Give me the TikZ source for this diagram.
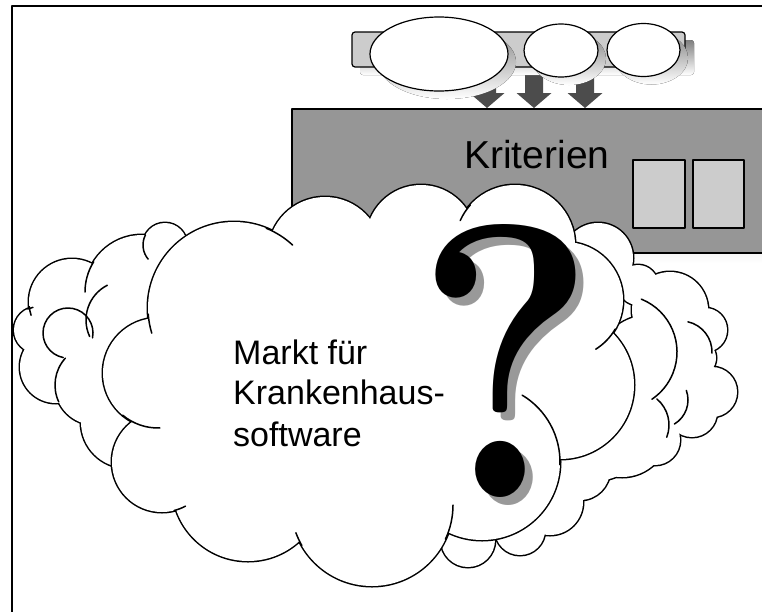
\documentclass[tikz,border=0pt]{standalone}
\usepackage{fontspec}
\newfontfamily\arial{Liberation Sans}
\definecolor{barfill}{gray}{0.8}
\definecolor{shade}{gray}{0.6}
\definecolor{boxfill}{gray}{0.59}
\definecolor{arrowfill}{gray}{0.3}
\tikzset{
  cloudedge/.style={draw=black, line width=3pt},
  cloudline/.style={draw=black, line width=1.5pt, line cap=round},
  outl/.style={draw=black, line width=1.2pt},
  bigtext/.style={font=\arial\fontsize{39}{39}\selectfont, inner sep=0pt, anchor=base west},
  cloudtext/.style={font=\arial\fontsize{34}{34}\selectfont, inner sep=0pt, anchor=base west},
  qmark/.style={font=\rmfamily\bfseries\fontsize{375}{375}\selectfont, inner sep=0pt, anchor=base, xscale=0.92, yscale=1.04},
  downarrow/.style={fill=arrowfill},
}
\newcommand\cloudunion[1]{%
  \foreach \cx/\cy/\cr in {#1}{\path[cloudedge] (\cx,\cy) circle[radius=\cr];}%
  \foreach \cx/\cy/\cr in {#1}{\fill[white] (\cx,\cy) circle[radius=\cr];}%
}
\newcommand\cloudarc[5]{\path[cloudline] (#1,#2) ++(#4:#3) arc[start angle=#4, end angle=#5, radius=#3];}
\begin{document}
\begin{tikzpicture}[x=1pt,y=-1pt,line join=round]
\useasboundingbox (0,0) rectangle (762,611);
\clip (0,0) rectangle (762,611);
\fill[white] (0,0) rectangle (762,611);
% frame
\draw[line width=2.5pt] (12,615) -- (12,6) -- (770,6);
% criteria box
\fill[shade] (301,118) rectangle (790,263);
\path[outl, fill=boxfill] (292,109) rectangle (790,253);
\path[outl, fill=barfill] (633,160) rectangle (685,228);
\path[outl, fill=barfill] (693,160) rectangle (744,228);
% arrows
\foreach \ax in {487,534,585}{
  \fill[downarrow] (\ax-9,70) -- (\ax+9,70) -- (\ax+9,93) -- (\ax+17.5,93) -- (\ax,108) -- (\ax-17.5,93) -- (\ax-9,93) -- cycle;
}
% top bar
\fill[shade, rounded corners=3pt] (360,40) rectangle (694,75);
\path[outl, fill=barfill, rounded corners=3pt] (352,32) rectangle (685,67);
\fill[shade] (447,62) ellipse[x radius=69, y radius=37];
\fill[shade] (569,58.5) ellipse[x radius=37, y radius=26.5];
\fill[shade] (651.5,58) ellipse[x radius=36.5, y radius=26.5];
\path[outl, fill=white] (439,54) ellipse[x radius=69, y radius=37];
\path[outl, fill=white] (561,50.5) ellipse[x radius=37, y radius=26.5];
\path[outl, fill=white] (643.5,50) ellipse[x radius=36.5, y radius=26.5];
% back clouds
\cloudunion{37/330/23, 56/367/36, 72/302/43, 142/292/57, 165/245/22, 100/350/50, 95/385/40, 127/422/46,
  598/258/35, 638/285/20, 670/310/38, 705/330/22, 698/358/18, 712/392/25, 692/412/25, 655/440/25, 622/430/47,
  580/470/30, 550/502/33, 520/530/25, 468/540/27, 650/370/55, 600/440/40, 520/490/40}
% inner arcs of back clouds
\cloudarc{68}{333}{25}{11}{-259}
\cloudarc{125}{320}{39}{243}{155}
\cloudarc{95}{385}{40}{222}{155}
\cloudarc{142}{292}{57}{180}{212}
\cloudarc{72}{302}{43}{162}{174}
\cloudarc{37}{330}{23}{-100}{-114}
\cloudarc{165}{245}{22}{140}{207}
\cloudarc{620}{352}{57}{-68}{56}
\cloudarc{681}{352}{31}{-77}{2}
\cloudarc{660}{400}{28}{-20}{59}
\cloudarc{635}{425}{34}{-50}{21}
% main cloud
\cloudunion{158/373/55, 234/308/86, 325/254/57, 421/240/55, 515/245/60, 565/300/58, 162/462/50, 248/485/76,
  372/505/81, 560/385/74, 482/462/78, 330/380/130, 440/330/100, 200/430/45}
\cloudarc{158}{373}{55}{130}{88}
\cloudarc{482}{462}{78}{-59}{2}
\cloudarc{565}{300}{58}{30}{58}
\cloudarc{372}{505}{81}{25}{0}
\cloudarc{234}{308}{86}{-68}{-47}
\cloudarc{234}{308}{86}{176}{163}
\cloudarc{515}{245}{60}{204}{222}
\cloudarc{162}{462}{50}{76}{62}
\cloudarc{372}{505}{81}{160}{150}
% question mark
\node[qmark, text=shade] (qshadow) at (514,505) {?};
\node[qmark] (q) at (506,497) {?};
% texts
\node[bigtext] (krit) at (464,168) {Kriterien};
\node[cloudtext] (t1) at (233,364) {Markt für};
\node[cloudtext] (t2) at (233,404) {Krankenhaus-};
\node[cloudtext] (t3) at (233,446) {software};
\end{tikzpicture}
\end{document}
